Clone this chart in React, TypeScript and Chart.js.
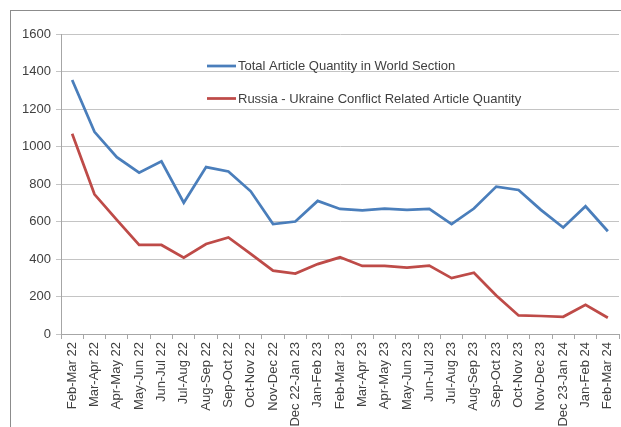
import React, { useEffect, useRef } from "react";
import { Chart, registerables } from "chart.js";

Chart.register(...registerables);

const categories = [
  "Feb-Mar 22", "Mar-Apr 22", "Apr-May 22", "May-Jun 22", "Jun-Jul 22",
  "Jul-Aug 22", "Aug-Sep 22", "Sep-Oct 22", "Oct-Nov 22", "Nov-Dec 22",
  "Dec 22-Jan 23", "Jan-Feb 23", "Feb-Mar 23", "Mar-Apr 23", "Apr-May 23",
  "May-Jun 23", "Jun-Jul 23", "Jul-Aug 23", "Aug-Sep 23", "Sep-Oct 23",
  "Oct-Nov 23", "Nov-Dec 23", "Dec 23-Jan 24", "Jan-Feb 24", "Feb-Mar 24",
];

const totalArticles = [
  1355, 1078, 943, 860, 921, 700, 890, 867, 761, 586, 600, 710, 667,
  660, 669, 662, 667, 586, 669, 786, 768, 662, 568, 681, 548,
];

const conflictArticles = [
  1068, 745, 609, 475, 475, 407, 480, 515, 427, 338, 322, 373, 409,
  363, 363, 354, 365, 298, 327, 205, 99, 96, 92, 156, 87,
];

const yTicks = [0, 200, 400, 600, 800, 1000, 1200, 1400, 1600];

const seriesNames = [
  "Total Article Quantity in World Section",
  "Russia - Ukraine Conflict Related Article Quantity",
];

const BLUE = "#4a7ebb";
const RED = "#be4b48";
const TEXT = "#404040";
const FONT = "'Liberation Sans', Arial, sans-serif";

export default function App() {
  const ref = useRef<HTMLCanvasElement | null>(null);

  useEffect(() => {
    if (!ref.current) return;

    const insideLegend = {
      id: "insideLegend",
      afterDraw(chart: any) {
        const ctx = chart.ctx as CanvasRenderingContext2D;
        const items = [
          { label: seriesNames[0], color: BLUE, y: 66 },
          { label: seriesNames[1], color: RED, y: 98.5 },
        ];
        ctx.save();
        ctx.font = `13px ${FONT}`;
        ctx.textBaseline = "middle";
        ctx.textAlign = "left";
        for (const it of items) {
          ctx.strokeStyle = it.color;
          ctx.lineWidth = 2.75;
          ctx.beginPath();
          ctx.moveTo(207, it.y);
          ctx.lineTo(236, it.y);
          ctx.stroke();
          ctx.fillStyle = TEXT;
          ctx.fillText(it.label, 238, it.y + 0.5);
        }
        ctx.restore();
      },
    };

    const chart = new Chart(ref.current, {
      type: "line",
      data: {
        labels: categories,
        datasets: [
          {
            label: seriesNames[0],
            data: totalArticles,
            borderColor: BLUE,
            backgroundColor: BLUE,
            borderWidth: 2.75,
            pointRadius: 0,
            tension: 0,
          },
          {
            label: seriesNames[1],
            data: conflictArticles,
            borderColor: RED,
            backgroundColor: RED,
            borderWidth: 2.75,
            pointRadius: 0,
            tension: 0,
          },
        ],
      },
      options: {
        responsive: false,
        animation: false,
        layout: { padding: { left: 0, top: 34, right: 2, bottom: 0 } },
        plugins: {
          legend: { display: false },
          tooltip: { enabled: false },
        },
        scales: {
          x: {
            offset: true,
            grid: {
              offset: true,
              drawOnChartArea: false,
              drawTicks: true,
              tickLength: 5,
              color: "#a6a6a6",
            },
            border: { color: "#a6a6a6" },
            ticks: {
              minRotation: 90,
              maxRotation: 90,
              autoSkip: false,
              padding: 3,
              color: TEXT,
              font: { family: FONT, size: 13 },
            },
            afterFit(scale: any) {
              scale.height = 93;
              scale.paddingLeft = 0;
              scale.paddingRight = 0;
            },
          },
          y: {
            min: 0,
            max: 1600,
            afterBuildTicks(scale: any) {
              scale.ticks = yTicks.map((v) => ({ value: v }));
            },
            grid: { color: "#c4c4c4", tickLength: 5 },
            border: { color: "#a6a6a6" },
            ticks: {
              padding: 5,
              color: TEXT,
              font: { family: FONT, size: 13 },
              callback: (v: any) => String(v),
            },
            afterFit(scale: any) {
              scale.width = 61;
              scale.paddingTop = 0;
              scale.paddingBottom = 0;
            },
          },
        },
      },
      plugins: [insideLegend],
    });

    return () => chart.destroy();
  }, []);

  return (
    <div
      style={{
        position: "fixed",
        left: 0,
        top: 0,
        width: 621,
        height: 427,
        background: "#ffffff",
        overflow: "hidden",
      }}
    >
      <div
        style={{
          position: "absolute",
          left: 10,
          top: 10,
          right: 0,
          bottom: 0,
          borderLeft: "1px solid #8c8c8c",
          borderTop: "1px solid #8c8c8c",
        }}
      />
      <canvas
        ref={ref}
        width={621}
        height={427}
        style={{ position: "absolute", left: 0, top: 0 }}
      />
    </div>
  );
}
